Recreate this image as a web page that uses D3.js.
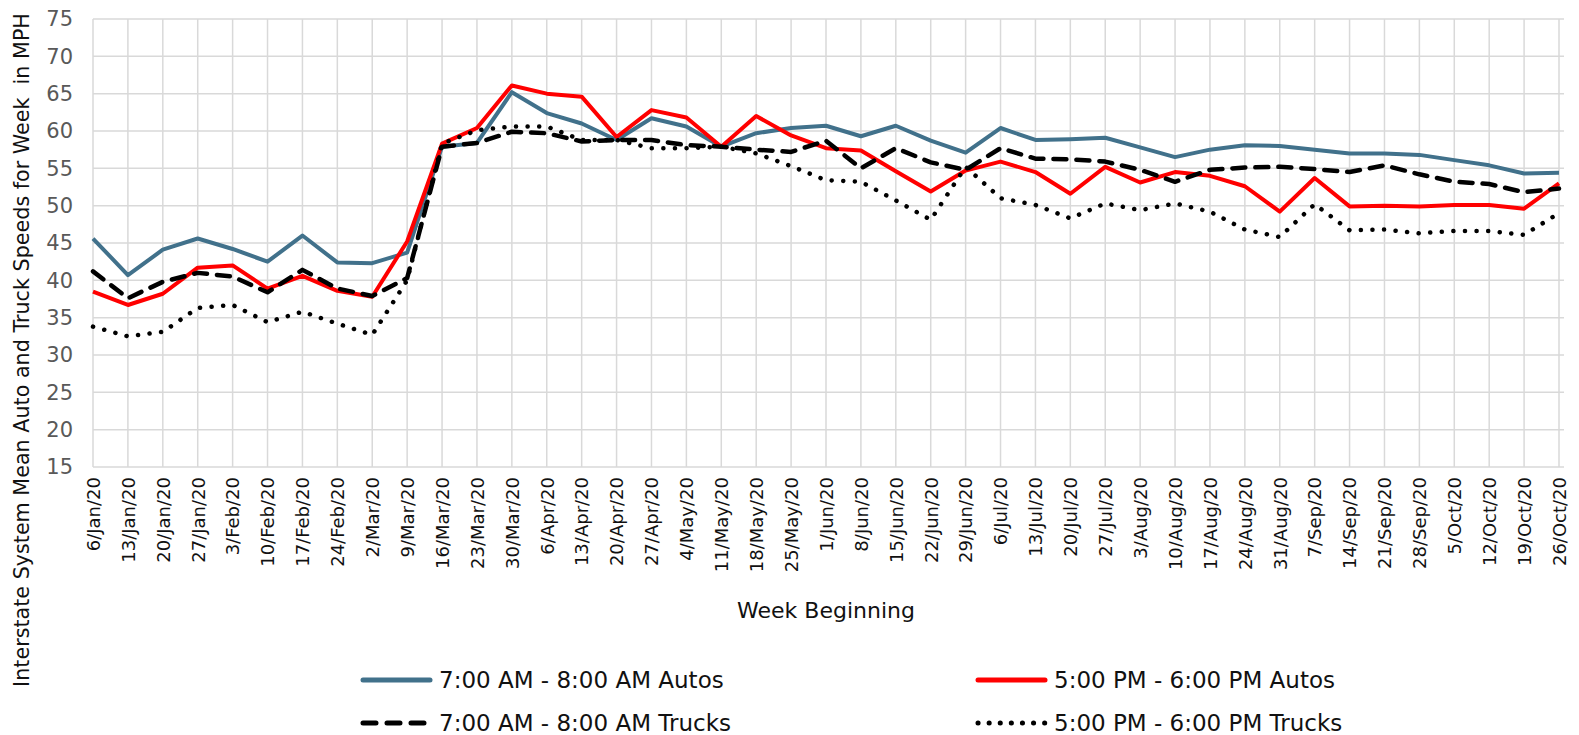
<!DOCTYPE html>
<html>
<head>
<meta charset="utf-8">
<script src="https://cdn.jsdelivr.net/npm/d3@7"></script>
<style>
  body { margin: 0; background: #fff; }
  svg { display: block; font-family: "DejaVu Sans", sans-serif; }
</style>
</head>
<body>
<div id="chart-wrap"></div>
<script>
const weeks = ["6/Jan/20","13/Jan/20","20/Jan/20","27/Jan/20","3/Feb/20","10/Feb/20","17/Feb/20","24/Feb/20",
  "2/Mar/20","9/Mar/20","16/Mar/20","23/Mar/20","30/Mar/20","6/Apr/20","13/Apr/20","20/Apr/20","27/Apr/20",
  "4/May/20","11/May/20","18/May/20","25/May/20","1/Jun/20","8/Jun/20","15/Jun/20","22/Jun/20","29/Jun/20",
  "6/Jul/20","13/Jul/20","20/Jul/20","27/Jul/20","3/Aug/20","10/Aug/20","17/Aug/20","24/Aug/20","31/Aug/20",
  "7/Sep/20","14/Sep/20","21/Sep/20","28/Sep/20","5/Oct/20","12/Oct/20","19/Oct/20","26/Oct/20"];

const amAutos = [45.6,40.7,44.1,45.6,44.2,42.5,46.0,42.4,42.3,43.7,57.9,58.4,65.2,62.4,61.0,58.8,61.7,
  60.6,57.9,59.7,60.4,60.7,59.3,60.7,58.7,57.1,60.4,58.8,58.9,59.1,57.8,56.5,57.5,58.1,58.0,
  57.5,57.0,57.0,56.8,56.1,55.4,54.3,54.4];
const pmAutos = [38.5,36.7,38.2,41.7,42.0,38.9,40.6,38.6,37.8,45.2,58.3,60.4,66.1,65.0,64.6,59.2,62.8,
  61.8,57.9,62.0,59.4,57.7,57.4,54.6,51.9,54.7,55.9,54.5,51.6,55.2,53.1,54.5,54.0,52.6,49.2,
  53.7,49.9,50.0,49.9,50.1,50.1,49.6,53.0];
const amTrucks = [41.2,37.6,39.8,41.0,40.5,38.4,41.4,38.9,37.9,40.3,57.9,58.4,59.9,59.7,58.6,58.8,58.8,
  58.1,57.9,57.5,57.2,58.7,55.0,57.7,55.8,54.8,57.7,56.3,56.2,55.9,54.8,53.2,54.8,55.1,55.2,
  54.9,54.5,55.4,54.2,53.2,52.9,51.8,52.3];
const pmTrucks = [33.8,32.5,33.1,36.3,36.7,34.4,35.8,34.2,32.7,40.0,58.3,60.1,60.6,60.6,58.8,58.8,57.7,
  57.7,57.9,57.0,55.3,53.4,53.2,50.7,48.1,55.2,51.0,50.1,48.3,50.3,49.4,50.3,49.2,46.8,45.8,
  50.2,46.7,46.8,46.3,46.6,46.6,46.1,49.0];

const yTicks = [15,20,25,30,35,40,45,50,55,60,65,70,75];

const series = [
  {name: "7:00 AM - 8:00 AM Autos", values: amAutos, color: "#41718b", dash: null, cap: "butt"},
  {name: "5:00 PM - 6:00 PM Autos", values: pmAutos, color: "#ff0000", dash: null, cap: "butt"},
  {name: "7:00 AM - 8:00 AM Trucks", values: amTrucks, color: "#000000", dash: "13,10", cap: "round"},
  {name: "5:00 PM - 6:00 PM Trucks", values: pmTrucks, color: "#000000", dash: "0.1,11.5", cap: "round"}
];

const width = 1579, height = 735;
const plot = {left: 93, right: 1559, top: 19, bottom: 467};

const svg = d3.select("#chart-wrap").append("svg")
  .attr("width", width).attr("height", height);

const x = d3.scalePoint().domain(weeks).range([plot.left, plot.right]);
const y = d3.scaleLinear().domain([15, 75]).range([plot.bottom, plot.top]);

// grid
svg.append("g").selectAll("line").data(yTicks).join("line")
  .attr("x1", plot.left).attr("x2", plot.right + 5)
  .attr("y1", d => y(d)).attr("y2", d => y(d))
  .attr("stroke", "#d9d9d9").attr("stroke-width", 1.5);
svg.append("g").selectAll("line").data(weeks).join("line")
  .attr("x1", d => x(d)).attr("x2", d => x(d))
  .attr("y1", plot.top).attr("y2", plot.bottom)
  .attr("stroke", "#d9d9d9").attr("stroke-width", 1.5);

// y axis labels
const yAxis = svg.append("g")
  .attr("transform", "translate(" + (plot.left - 20) + ",0)")
  .call(d3.axisLeft(y).tickValues(yTicks).tickSize(0).tickPadding(0));
yAxis.select(".domain").remove();
yAxis.selectAll("text").attr("font-size", 21).attr("fill", "#595959")
  .attr("font-family", "DejaVu Sans");

// x axis labels
const xAxis = svg.append("g")
  .attr("transform", "translate(0," + plot.bottom + ")")
  .call(d3.axisBottom(x).tickSize(0).tickPadding(0));
xAxis.select(".domain").remove();
xAxis.selectAll("text")
  .attr("font-size", 18).attr("fill", "#111").attr("font-family", "DejaVu Sans")
  .attr("transform", "rotate(-90)")
  .attr("text-anchor", "end")
  .attr("x", -10).attr("y", 0).attr("dy", "0.35em");

// lines
const line = d3.line().x((d, i) => x(weeks[i])).y(d => y(d));
svg.append("g").selectAll("path").data(series).join("path")
  .attr("fill", "none")
  .attr("stroke", d => d.color)
  .attr("stroke-width", d => d.dash ? 4.5 : 4)
  .attr("stroke-linecap", d => d.cap)
  .attr("stroke-linejoin", "round")
  .attr("stroke-dasharray", d => d.dash)
  .attr("d", d => line(d.values));

// titles
svg.append("text")
  .attr("x", (plot.left + plot.right) / 2).attr("y", 618)
  .attr("text-anchor", "middle").attr("font-size", 22).attr("fill", "#111")
  .text("Week Beginning");
svg.append("text")
  .attr("transform", "translate(29,350) rotate(-90)")
  .attr("text-anchor", "middle").attr("font-size", 20.7).attr("fill", "#111")
  .text("Interstate System Mean Auto and Truck Speeds for Week  in MPH")
  .style("white-space", "pre");

// legend
const legendPos = [[360, 680], [975, 680], [360, 723], [975, 723]];
const legend = svg.append("g").selectAll("g").data(series).join("g")
  .attr("transform", (d, i) => "translate(" + legendPos[i][0] + "," + legendPos[i][1] + ")");
legend.append("line")
  .attr("x1", 3).attr("x2", 70).attr("y1", 0).attr("y2", 0)
  .attr("stroke", d => d.color).attr("stroke-width", 5)
  .attr("stroke-linecap", "round")
  .attr("stroke-dasharray", (d, i) => i === 2 ? "13,11" : i === 3 ? "0.1,11" : null);
legend.append("text")
  .attr("x", 79).attr("y", 0).attr("dy", "0.36em")
  .attr("font-size", 23).attr("fill", "#111")
  .text(d => d.name);
</script>
</body>
</html>
